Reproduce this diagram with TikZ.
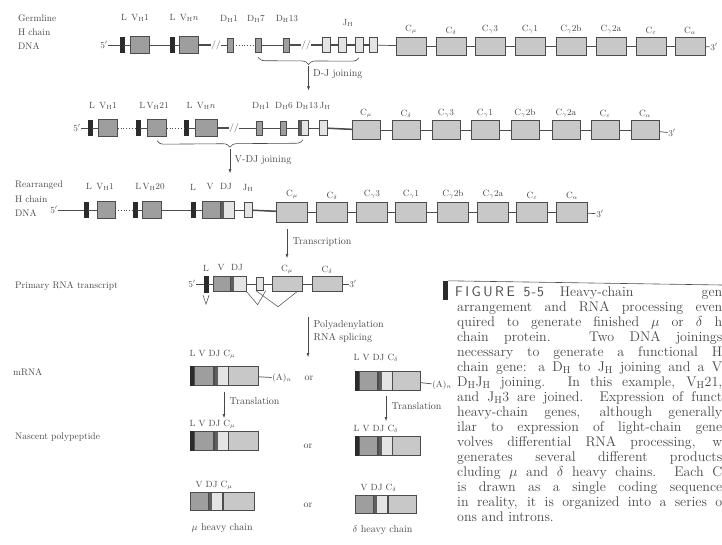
\documentclass[tikz,border=0pt]{standalone}
\usepackage{amsmath}
\usepackage{xcolor}
\usetikzlibrary{arrows.meta,positioning,calc,decorations.pathreplacing}
\definecolor{ink}{HTML}{474747}
\definecolor{dark}{HTML}{2B2B2B}
\definecolor{vgray}{HTML}{9E9E9E}
\definecolor{cgray}{HTML}{C8C8C8}
\definecolor{jgray}{HTML}{E4E4E4}
\definecolor{edge}{HTML}{4C4C4C}
\newcommand{\Hs}{\ensuremath{_{\mathrm{H}}}}

\begin{document}
\begin{tikzpicture}[
  x=1pt,y=-1pt,>=Latex,
  flow/.style={-{Latex[length=4pt,width=3pt]},draw=ink,line width=0.5pt},
  dna/.style={draw=edge,line width=0.7pt},
  thickdna/.style={draw=edge,line width=1.5pt},
  dots/.style={draw=edge,line width=0.8pt,dotted},
  lbox/.style={draw=dark,fill=dark,inner sep=0pt,minimum width=4pt,minimum height=15pt},
  vbox/.style={draw=edge,fill=vgray,inner sep=0pt,minimum width=19pt,minimum height=17pt},
  dbox/.style={draw=edge,fill=vgray,inner sep=0pt,minimum width=6pt,minimum height=14pt},
  jbox/.style={draw=edge,fill=jgray,inner sep=0pt,minimum width=8pt,minimum height=15pt},
  djbox/.style={draw=edge,fill=jgray,inner sep=0pt,minimum width=14pt,minimum height=17pt,
    path picture={\fill[vgray!60!black] (path picture bounding box.south west)
      rectangle ([xshift=4pt]path picture bounding box.north west);}},
  cbox/.style={draw=edge,fill=cgray,inner sep=0pt,minimum width=30pt,minimum height=18pt},
  brk/.style={inner sep=0.5pt,text=edge,font=\fontsize{9}{9}\selectfont},
  lab/.style={inner sep=0.5pt,text=ink,font=\fontsize{9}{10}\selectfont},
  note/.style={inner sep=0.5pt,text=ink,anchor=west,font=\fontsize{10}{11}\selectfont},
  side/.style={inner sep=0pt,text=ink,anchor=west,font=\fontsize{9.5}{10}\selectfont},
  captxt/.style={inner sep=0pt,text=ink,anchor=base west,font=\fontsize{14}{15}\selectfont},
  brace/.style={decorate,decoration={brace,mirror,amplitude=7pt},draw=ink,line width=0.6pt}
]
  \useasboundingbox (0,0) rectangle (722,544);

  \node[side] (gl1) at (18,18) {Germline};
  \node[side] (gl2) at (18,32) {H chain};
  \node[side] (gl3) at (18,46) {DNA};
  \node[lab] (r1five) at (104,45) {5$'$};
  \node[lbox] (r1L1) at (122,45) {};
  \node[vbox] (r1V1) at (140,45) {};
  \node[lbox] (r1L2) at (172,45) {};
  \node[vbox] (r1Vn) at (189,45) {};
  \node[brk] (r1b1) at (216,45) {//};
  \node[dbox] (r1D1) at (230,45) {};
  \node[dbox] (r1D7) at (258,45) {};
  \node[dbox] (r1D13) at (286,45) {};
  \node[brk] (r1b2) at (306,45) {//};
  \foreach \i/\x in {1/326,2/342,3/359,4/373}
    \node[jbox] (r1J\i) at (\x,45) {};
  \node[lab] (r1tV1) at (135,18) {L\enspace V\Hs1};
  \node[lab] (r1tVn) at (184,18) {L\enspace V\Hs$n$};
  \node[lab] (r1tD1) at (229,19) {D\Hs1};
  \node[lab] (r1tD7) at (256,19) {D\Hs7};
  \node[lab] (r1tD13) at (287,19) {D\Hs13};
  \node[lab] (r1tJ) at (348,23) {J\Hs};
  \draw[dna] (r1five) -- (r1L1) -- (r1V1) -- (r1L2) -- (r1Vn);
  \draw[thickdna] (r1Vn) -- (r1b1);
  \draw[dna] (r1b1) -- (r1D1);
  \draw[dots] (r1D1) -- (r1D7);
  \draw[dna] (r1D7) -- (r1D13);
  \draw[thickdna] (r1D13) -- (r1b2) -- (r1J1) -- (r1J2) -- (r1J3) -- (r1J4);
  \foreach \n/\x/\t [remember=\n as \p (initially J4)] in
    {mu/411/{C$_\mu$},de/451/{C$_\delta$},ga/490/{C$_\gamma$3},gb/530/{C$_\gamma$1},
     gc/571/{C$_\gamma$2b},gd/611/{C$_\gamma$2a},ep/651/{C$_\varepsilon$},al/690/{C$_\alpha$}}{
    \node[cbox] (r1\n) at (\x,46) {};
    \node[lab,above=2pt of r1\n] (r1t\n) {\t};
    \draw[dna] (r1\p) -- (r1\n);
  }
  \node[lab] (r1three) at (714,47) {3$'$};
  \draw[dna] (r1al) -- (r1three);

  \draw[brace] ([yshift=-5pt]r1D7.south) -- ([yshift=-5pt]r1J3.south)
    coordinate[midway] (dj0);
  \coordinate (dj1) at ($(dj0)+(0,9)$);
  \coordinate (dj2) at ($(dj0)+(0,33)$);
  \draw[flow] (dj1) -- (dj2);
  \node[note] (djtxt) at ($(dj1)+(4,8)$) {D-J joining};

  \node[lab] (r2five) at (77,128) {5$'$};
  \node[lbox] (r2L1) at (90,128) {};
  \node[vbox] (r2V1) at (108,128) {};
  \node[lbox] (r2L21) at (138,128) {};
  \node[vbox] (r2V21) at (157,128) {};
  \node[lbox] (r2Ln) at (186,128) {};
  \node[vbox,minimum width=22pt] (r2Vn) at (206,128) {};
  \node[brk] (r2b1) at (234,128) {//};
  \node[dbox] (r2D1) at (259,128) {};
  \node[dbox] (r2D6) at (283,128) {};
  \node[djbox,minimum width=10pt,minimum height=15pt] (r2DJ) at (303,128) {};
  \node[jbox] (r2J) at (323,128) {};
  \node[lab] (r2tV1) at (103,106) {L\enspace V\Hs1};
  \node[lab] (r2tV21) at (154,106) {L\,V\Hs21};
  \node[lab] (r2tVn) at (201,106) {L\enspace V\Hs$n$};
  \node[lab] (r2tD1) at (261,106) {D\Hs1};
  \node[lab] (r2tD6) at (284,106) {D\Hs6};
  \node[lab] (r2tDJ) at (313,106) {D\Hs13\,J\Hs};
  \draw[dna] (r2five) -- (r2L1) -- (r2V1);
  \draw[dots] (r2V1) -- (r2L21);
  \draw[dna] (r2L21) -- (r2V21);
  \draw[dots] (r2V21) -- (r2Ln);
  \draw[dna] (r2Ln) -- (r2Vn);
  \draw[thickdna] (r2Vn) -- (r2b1);
  \draw[dna] (r2b1) -- (r2D1) -- (r2D6) -- (r2DJ) -- (r2J);
  \foreach \n/\x/\t [remember=\n as \p (initially J)] in
    {mu/366/{C$_\mu$},de/406/{C$_\delta$},ga/446/{C$_\gamma$3},gb/485/{C$_\gamma$1},
     gc/525/{C$_\gamma$2b},gd/566/{C$_\gamma$2a},ep/605/{C$_\varepsilon$},al/645/{C$_\alpha$}}{
    \node[cbox,minimum width=28pt,minimum height=19pt] (r2\n) at (\x,130) {};
    \node[lab,above=2pt of r2\n] (r2t\n) {\t};
    \draw[dna] (r2\p) -- (r2\n);
  }
  \draw[thickdna] (r2J) -- (r2mu);
  \node[lab] (r2three) at (672,133) {3$'$};
  \draw[dna] (r2al) -- (r2three);

  \draw[brace] ([yshift=-4pt]r2V21.south) -- ([yshift=-4pt]r2DJ.south)
    coordinate[midway] (vdj0);
  \coordinate (vdj1) at ($(vdj0)+(0,9)$);
  \coordinate (vdj2) at ($(vdj0)+(0,33)$);
  \draw[flow] (vdj1) -- (vdj2);
  \node[note] (vdjtxt) at ($(vdj1)+(4,11)$) {V-DJ joining};

  \node[side] (rr1) at (15,185) {Rearranged};
  \node[side] (rr2) at (15,199) {H chain};
  \node[side] (rr3) at (15,213) {DNA};
  \node[lab] (r3five) at (54,210) {5$'$};
  \node[lbox] (r3L1) at (86,210) {};
  \node[vbox,minimum width=18pt] (r3V1) at (106,210) {};
  \node[lbox] (r3L20) at (135,210) {};
  \node[vbox] (r3V20) at (152,210) {};
  \node[lbox] (r3L) at (193,210) {};
  \node[vbox,minimum width=18pt] (r3V) at (211,210) {};
  \node[djbox,right=0pt of r3V] (r3DJ) {};
  \node[jbox] (r3J) at (248,210) {};
  \node[lab] (r3tV1) at (100,187) {L\enspace V\Hs1};
  \node[lab] (r3tV20) at (150,187) {L\,V\Hs20};
  \node[lab] (r3tL) at (193,187) {L};
  \node[lab] (r3tV) at (210,187) {V};
  \node[lab] (r3tDJ) at (226,187) {DJ};
  \node[lab] (r3tJ) at (248,188) {J\Hs};
  \draw[dna] (r3five) -- (r3L1) -- (r3V1);
  \draw[dots] (r3V1) -- (r3L20);
  \draw[dna] (r3L20) -- (r3V20) -- (r3L) -- (r3V);
  \draw[dna] (r3DJ) -- (r3J);
  \foreach \n/\x/\t [remember=\n as \p (initially J)] in
    {mu/292/{C$_\mu$},de/332/{C$_\delta$},ga/372/{C$_\gamma$3},gb/411/{C$_\gamma$1},
     gc/453/{C$_\gamma$2b},gd/493/{C$_\gamma$2a},ep/532/{C$_\varepsilon$},al/572/{C$_\alpha$}}{
    \node[cbox,minimum width=31pt,minimum height=20pt] (r3\n) at (\x,212) {};
    \node[lab,above=2pt of r3\n] (r3t\n) {\t};
    \draw[dna] (r3\p) -- (r3\n);
  }
  \draw[thickdna] (r3J) -- (r3mu);
  \node[lab] (r3three) at (600,214) {3$'$};
  \draw[dna] (r3al) -- (r3three);

  \coordinate (tr1) at (287,229);
  \coordinate (tr2) at (287,258);
  \draw[flow] (tr1) -- (tr2);
  \node[note] (trtxt) at (292,242) {Transcription};

  \node[side] (pt) at (15,286) {Primary RNA transcript};
  \node[lab] (r4five) at (192,284) {5$'$};
  \node[lbox,minimum height=16pt] (r4L) at (206,284) {};
  \node[vbox,minimum width=17pt,minimum height=15pt] (r4V) at (221.5,284) {};
  \node[djbox,minimum width=16pt,minimum height=15pt,right=0pt of r4V] (r4DJ) {};
  \node[jbox,minimum width=7pt,minimum height=13pt] (r4J) at (260,284) {};
  \node[cbox,minimum height=15pt] (r4mu) at (287,284) {};
  \node[cbox,minimum height=15pt] (r4de) at (327,284) {};
  \node[lab] (r4three) at (353,284) {3$'$};
  \node[lab] (r4tL) at (206,268) {L};
  \node[lab] (r4tV) at (221,268) {V};
  \node[lab] (r4tDJ) at (237,268) {DJ};
  \node[lab,above=2pt of r4mu] (r4tmu) {C$_\mu$};
  \node[lab,above=2pt of r4de] (r4tde) {C$_\delta$};
  \draw[dna] (r4five) -- (r4L) -- (r4V);
  \draw[dna] (r4DJ) -- (r4J) -- (r4mu) -- (r4de) -- (r4three);
  \draw[draw=ink,line width=0.5pt] (r4DJ.south east) -- ++(11,13) -- ([xshift=2pt]r4J.south east);
  \draw[draw=ink,line width=0.5pt] ([xshift=-4pt]r4J.south) -- ++(22,16) -- ($(r4mu.south)+(10,0)$);
  \draw[draw=ink,line width=0.5pt] ($(r4L.south)+(-3,3)$) -- ++(3,9) -- ++(3,-9);

  \coordinate (pa1) at (308,317);
  \coordinate (pa2) at (308,357);
  \draw[flow] (pa1) -- (pa2);
  \node[note] (patxt1) at (313,325) {Polyadenylation};
  \node[note] (patxt2) at (313,338) {RNA splicing};

  \node[side] (mrna) at (13,372) {mRNA};
  \node[lbox,minimum height=19pt] (m1L) at (192,376) {};
  \node[vbox,minimum height=19pt,right=0pt of m1L] (m1V) {};
  \node[djbox,minimum height=19pt,right=0pt of m1V] (m1DJ) {};
  \node[cbox,minimum height=19pt,right=0pt of m1DJ] (m1C) {};
  \node[lab,anchor=west] (m1t) at (189,354) {L V DJ C$_\mu$};
  \node[lab] (m1A) at (282,378) {(A)$_n$};
  \node[note] (m1or) at (304,378) {or};
  \draw[dna] (m1C) -- (m1A);

  \node[lbox,minimum height=19pt] (m2L) at (357,381) {};
  \node[vbox,minimum width=18pt,minimum height=19pt,right=0pt of m2L] (m2V) {};
  \node[djbox,minimum height=19pt,right=0pt of m2V] (m2DJ) {};
  \node[cbox,minimum width=28pt,minimum height=19pt,right=0pt of m2DJ] (m2C) {};
  \node[lab,anchor=west] (m2t) at (353,358) {L V DJ C$_\delta$};
  \node[lab] (m2A) at (442,385) {(A)$_n$};
  \draw[dna] (m2C) -- (m2A);

  \coordinate (tl1) at (224,392);
  \coordinate (tl2) at (224,418);
  \draw[flow] (tl1) -- (tl2);
  \node[note] (tltxt1) at (229,401) {Translation};
  \coordinate (tr3) at (386,396);
  \coordinate (tr4) at (386,421);
  \draw[flow] (tr3) -- (tr4);
  \node[note] (tltxt2) at (391,406) {Translation};

  \node[side] (np) at (15,437) {Nascent polypeptide};
  \node[lbox,minimum height=19pt] (p1L) at (192,441) {};
  \node[vbox,minimum height=19pt,right=0pt of p1L] (p1V) {};
  \node[djbox,minimum height=19pt,right=0pt of p1V] (p1DJ) {};
  \node[cbox,minimum height=19pt,right=0pt of p1DJ] (p1C) {};
  \node[lab,anchor=west] (p1t) at (189,424) {L V DJ C$_\mu$};
  \node[note] (p1or) at (303,446) {or};
  \node[lbox,minimum height=19pt] (p2L) at (357,446) {};
  \node[vbox,minimum width=18pt,minimum height=19pt,right=0pt of p2L] (p2V) {};
  \node[djbox,minimum height=19pt,right=0pt of p2V] (p2DJ) {};
  \node[cbox,minimum width=28pt,minimum height=19pt,right=0pt of p2DJ] (p2C) {};
  \node[lab,anchor=west] (p2t) at (353,429) {L V DJ C$_\delta$};

  \node[vbox,minimum width=18pt,minimum height=18pt] (q1V) at (199,501) {};
  \node[djbox,minimum height=18pt,right=0pt of q1V] (q1DJ) {};
  \node[cbox,minimum width=31pt,minimum height=18pt,right=0pt of q1DJ] (q1C) {};
  \node[lab,anchor=west] (q1t) at (195,485) {V DJ C$_\mu$};
  \node[note] (q1or) at (303,505) {or};
  \node[note] (q1name) at (191,528) {$\mu$ heavy chain};
  \node[vbox,minimum width=18pt,minimum height=18pt] (q2V) at (364,504) {};
  \node[djbox,minimum height=18pt,right=0pt of q2V] (q2DJ) {};
  \node[cbox,minimum width=28pt,minimum height=18pt,right=0pt of q2DJ] (q2C) {};
  \node[lab,anchor=west] (q2t) at (360,488) {V DJ C$_\delta$};
  \node[note] (q2name) at (352,530) {$\delta$ heavy chain};

  \node[fill=dark,inner sep=0pt,minimum width=5pt,minimum height=19pt] (capbar) at (445.5,290.5) {};
  \coordinate (capend) at (722,285);
  \draw[draw=edge,line width=0.6pt] (capbar.north east) -- (capend);
  \node[captxt] (cap1) at (455,296)
    {\makebox[267pt][l]{{\sffamily F\hspace{2.5pt}I\hspace{2.5pt}G\hspace{2.5pt}U\hspace{2.5pt}R\hspace{2.5pt}E\hspace{9pt}5\hspace{1pt}-\hspace{1pt}5}\hspace{16pt}Heavy-chain\hfill gen}};
  \foreach \t [count=\k from 2] in
    {{arrangement and RNA processing even},
     {quired to generate finished $\mu$ or $\delta$ h},
     {chain protein. Two DNA joinings},
     {necessary to generate a functional H},
     {chain gene: a D\Hs{} to J\Hs{} joining and a V},
     {D\Hs J\Hs{} joining. In this example, V\Hs21,},
     {and J\Hs3 are joined. Expression of funct},
     {heavy-chain genes, although generally},
     {ilar to expression of light-chain gene},
     {volves differential RNA processing, w},
     {generates several different products},
     {cluding $\mu$ and $\delta$ heavy chains. Each C},
     {is drawn as a single coding sequence},
     {in reality, it is organized into a series o}}
    \node[captxt] (cap\k) at (457,{296+15*(\k-1)}) {\makebox[265pt][s]{\t}};
  \node[captxt] (cap16) at (457,{296+15*15}) {ons and introns.};
\end{tikzpicture}
\end{document}
